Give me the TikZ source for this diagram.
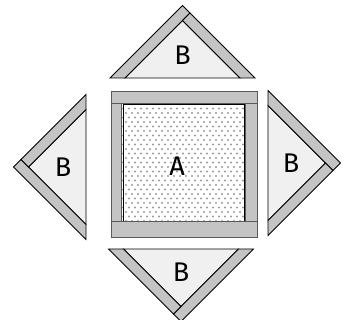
\documentclass[tikz,border=0pt]{standalone}
\usepackage{fontspec}
\setmainfont{Fira Sans}
\usepackage{xcolor}
\definecolor{cStrip}{HTML}{C4C4C4}
\definecolor{cPatch}{HTML}{F0F0F0}
\definecolor{cDot}{HTML}{9A9A9A}
\definecolor{cFrame}{HTML}{5A5A5A}
\usepackage{tikz}
\tikzset{
  strip-tri/.style={draw=black,fill=cStrip,line width=0.8pt,line join=miter},
  patch-tri/.style={draw=black,fill=cPatch,line width=0.8pt},
  strip-sq/.style={draw=cFrame,fill=cStrip,line width=1pt},
  patch-sq/.style={draw=black,line width=0.8pt},
  fabric-dot/.style={fill=cDot,draw=none},
  label-txt/.style={font=\fontsize{27}{27}\selectfont,inner sep=0pt},
}
\begin{document}
\begin{tikzpicture}[x=1pt,y=1pt]
  \useasboundingbox (0,0) rectangle (345,320);
  % square A and its frame
  \begin{scope}
    \clip (122,98) rectangle (245,216);
    \foreach \row in {0,...,26} {
      \foreach \col in {0,...,21} {
        \pgfmathsetmacro{\dx}{120+6*\col+3*mod(\row,2)}
        \pgfmathsetmacro{\dy}{99+4.5*\row}
        \fill[fabric-dot] (\dx,\dy) circle (1.1pt);
      }
    }
  \end{scope}
  \draw[patch-sq] (123,98) rectangle (244,216);
  \draw[strip-sq] (111,216) rectangle (257,228);
  \draw[strip-sq] (111,82) rectangle (257,98);
  \draw[strip-sq] (111,98) rectangle (121.5,216);
  \draw[strip-sq] (245.5,98) rectangle (257,216);
  \node[label-txt] (A) at (177,154) {A};
  % four B triangles, one block turned round
  \foreach \pos/\x/\y/\r in {top/182.5/242/0, left/86/153/90, right/268/157/-90, bottom/181/71/180} {
    \begin{scope}[shift={(\x,\y)},rotate=\r]
      \draw[patch-tri] (-57.5,0) -- (57.5,0) -- (0,57.5) -- cycle;
      \draw[strip-tri] (-72.5,0) -- (0,72.5) -- (7.5,65) -- (0,57.5) -- (-57.5,0) -- cycle;
      \draw[strip-tri] (7.5,65) -- (72.5,0) -- (57.5,0) -- (0,57.5) -- cycle;
      \node[label-txt] (B-\pos) at (0,23) {B};
    \end{scope}
  }
\end{tikzpicture}
\end{document}
